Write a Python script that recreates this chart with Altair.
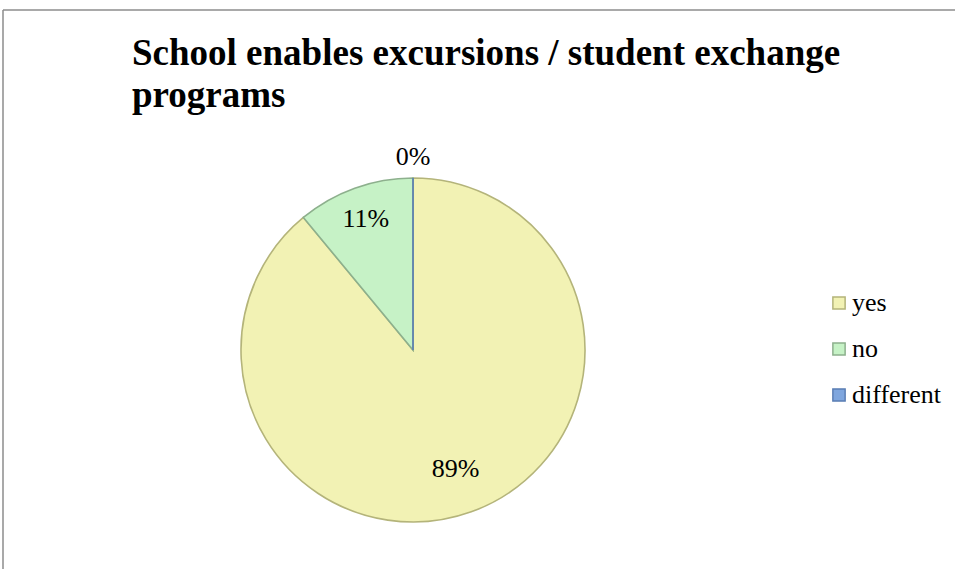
import altair as alt
import pandas as pd

categories = ["yes", "no", "different"]
values = [89, 11, 0]
labels = ["89%", "11%", "0%"]
order = [1, 2, 3]
fills = ["#F2F2B4", "#C6F2C6", "#7FA6DE"]
strokes = ["#B4B47A", "#8DB08D", "#5B7EB4"]
title_text = "School enables excursions / student exchange\nprograms"

df = pd.DataFrame({"category": categories, "value": values, "label": labels, "order": order})
total = sum(values)

# view center = pie center (413, 350) in page pixels
PAD_L, PAD_T = 0, 131
W, H = 826, 438

fill_scale = alt.Scale(domain=categories, range=fills)
stroke_scale = alt.Scale(domain=categories, range=strokes)

base = alt.Chart(df)

pie = base.mark_arc(outerRadius=172, strokeWidth=1.6).encode(
    theta=alt.Theta("value:Q", stack=True),
    order=alt.Order("order:Q"),
    fill=alt.Fill("category:N", scale=fill_scale, sort=categories,
                  legend=alt.Legend(title=None, orient="none", legendX=826, legendY=159,
                                    symbolType="square", symbolSize=150, symbolStrokeWidth=1.5,
                                    labelFont="Liberation Serif", labelFontSize=26,
                                    labelColor="#000000", labelOffset=0, rowPadding=20,
                                    padding=0)),
    stroke=alt.Stroke("category:N", scale=stroke_scale, sort=categories),
)

text = base.transform_window(
    cum="sum(value)", sort=[alt.SortField("order", order="ascending")], frame=[None, 0]
).transform_calculate(
    mid="datum.cum - datum.value / 2",
    lr="datum.category == 'different' ? 193 : (datum.category == 'no' ? 139 : 126)"
).mark_text(font="Liberation Serif", fontSize=26, color="#000000", baseline="middle", align="center").encode(
    theta=alt.Theta("mid:Q", stack=None, scale=alt.Scale(domain=[0, total])),
    radius=alt.Radius("lr:Q", scale=None),
    text="label:N",
)

title_df = pd.DataFrame({"t": [title_text]})
title = alt.Chart(title_df).mark_text(
    font="Liberation Serif", fontSize=37, fontWeight="bold", align="left",
    baseline="alphabetic", lineBreak="\n", lineHeight=42, color="#000000"
).encode(x=alt.value(132), y=alt.value(65 - PAD_T), text="t:N")

border_df = pd.DataFrame({"b": [0]})
top_rule = alt.Chart(border_df).mark_rule(color="#8C8C8C", strokeWidth=1.5).encode(
    x=alt.value(3), x2=alt.value(960), y=alt.value(10 - PAD_T))
left_rule = alt.Chart(border_df).mark_rule(color="#8C8C8C", strokeWidth=1.5).encode(
    x=alt.value(3), y=alt.value(10 - PAD_T), y2=alt.value(600 - PAD_T))

chart = alt.layer(top_rule, left_rule, pie, text, title).resolve_scale(
    theta="independent"
).properties(
    width=W, height=H,
    autosize=alt.AutoSizeParams(type="none"),
    padding={"left": PAD_L, "top": PAD_T, "right": 955 - W - PAD_L, "bottom": 0},
    background="#FFFFFF",
).configure_view(stroke=None)

chart.save("out.html", embed_options={"renderer": "svg", "actions": False})
